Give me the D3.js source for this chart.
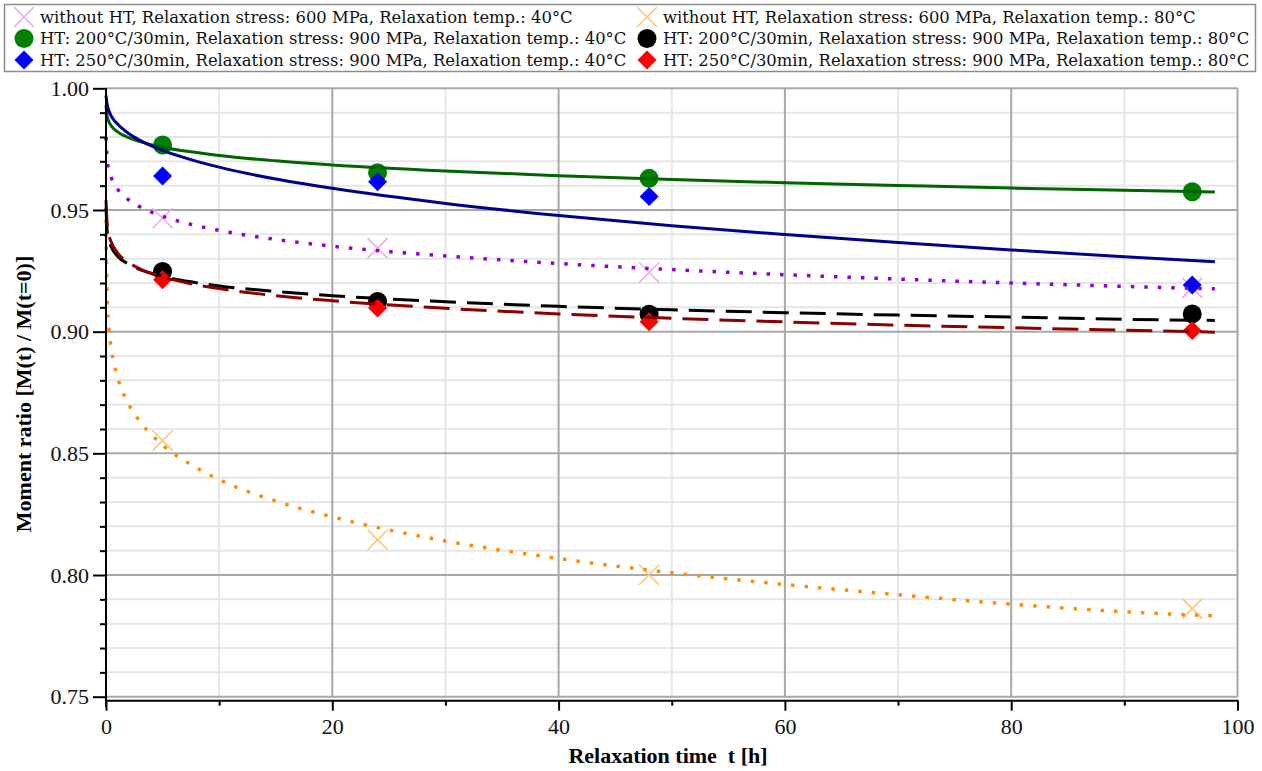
<!DOCTYPE html>
<html>
<head>
<meta charset="utf-8">
<script src="https://cdn.jsdelivr.net/npm/d3@7"></script>
<style>
  html, body { margin: 0; padding: 0; background: #fff; }
  svg { display: block; }
</style>
</head>
<body>
<svg id="chart" width="1262" height="771"></svg>
<script>
// Measured relaxation: moment ratio at each holding time
const measureTimes = [5, 24, 48, 96];
const noHT40  = [0.9466, 0.9343, 0.9243, 0.9180];
const noHT80  = [0.8553, 0.8145, 0.8001, 0.7862];
const ht200_40 = [0.9767, 0.9653, 0.9630, 0.9575];
const ht200_80 = [0.9247, 0.9124, 0.9072, 0.9073];
const ht250_40 = [0.9640, 0.9616, 0.9555, 0.9192];
const ht250_80 = [0.9213, 0.9097, 0.9041, 0.9005];

// Fitted relaxation curves, sampled along the time axis
const fitTimes = [0, 0.1, 0.25, 0.5, 1, 2, 3, 5, 7.5, 10, 15, 20, 30, 40, 50, 60, 70, 80, 90, 98];
const fitNoHT40  = [0.980, 0.9709, 0.9665, 0.9628, 0.9587, 0.9542, 0.9513, 0.9474, 0.9441, 0.9416, 0.9379, 0.9351, 0.9311, 0.9280, 0.9255, 0.9234, 0.9216, 0.9200, 0.9186, 0.9176];
const fitNoHT80  = [0.946, 0.9129, 0.9016, 0.8921, 0.8817, 0.8702, 0.8631, 0.8534, 0.8454, 0.8392, 0.8304, 0.8239, 0.8140, 0.8068, 0.8009, 0.7961, 0.7919, 0.7880, 0.7849, 0.7832];
const fitHT200_40 = [0.993, 0.9885, 0.9863, 0.9844, 0.9822, 0.9797, 0.9781, 0.9758, 0.9739, 0.9724, 0.9702, 0.9685, 0.9660, 0.9641, 0.9625, 0.9612, 0.9601, 0.9590, 0.9581, 0.9574];
const fitHT200_80 = [0.951, 0.9415, 0.9376, 0.9344, 0.9311, 0.9277, 0.9255, 0.9228, 0.9205, 0.9188, 0.9165, 0.9148, 0.9123, 0.9104, 0.9090, 0.9078, 0.9068, 0.9060, 0.9051, 0.9046];
const fitHT250_40 = [0.997, 0.9934, 0.9909, 0.9883, 0.9854, 0.9814, 0.9786, 0.9745, 0.9707, 0.9676, 0.9627, 0.9589, 0.9527, 0.9477, 0.9435, 0.9399, 0.9366, 0.9336, 0.9308, 0.9287];
const fitHT250_80 = [0.954, 0.9446, 0.9400, 0.9364, 0.9325, 0.9284, 0.9258, 0.9225, 0.9197, 0.9177, 0.9148, 0.9127, 0.9096, 0.9073, 0.9055, 0.9040, 0.9027, 0.9016, 0.9006, 0.8998];

const legendLabels = [
  "without HT, Relaxation stress: 600 MPa, Relaxation temp.: 40°C",
  "HT: 200°C/30min, Relaxation stress: 900 MPa, Relaxation temp.: 40°C",
  "HT: 250°C/30min, Relaxation stress: 900 MPa, Relaxation temp.: 40°C",
  "without HT, Relaxation stress: 600 MPa, Relaxation temp.: 80°C",
  "HT: 200°C/30min, Relaxation stress: 900 MPa, Relaxation temp.: 80°C",
  "HT: 250°C/30min, Relaxation stress: 900 MPa, Relaxation temp.: 80°C"
];

const xMajorTicks = [0, 20, 40, 60, 80, 100];
const xMinorTicks = [10, 30, 50, 70, 90];
const yMajorTicks = [0.75, 0.80, 0.85, 0.90, 0.95, 1.00];

const series = [
  { label: legendLabels[0], pts: noHT40,   fit: fitNoHT40,   marker: "cross",   fill: "none",    mstroke: "#f2a6f2", line: "#9400d3", dash: "3.5,10", width: 3.5 },
  { label: legendLabels[1], pts: ht200_40, fit: fitHT200_40, marker: "circle",  fill: "#008000", mstroke: "none",    line: "#006400", dash: null,     width: 3 },
  { label: legendLabels[2], pts: ht250_40, fit: fitHT250_40, marker: "diamond", fill: "#0000ff", mstroke: "none",    line: "#00008b", dash: null,     width: 3 },
  { label: legendLabels[3], pts: noHT80,   fit: fitNoHT80,   marker: "cross",   fill: "none",    mstroke: "#ffc56e", line: "#ff8c00", dash: "3.5,10", width: 3.5 },
  { label: legendLabels[4], pts: ht200_80, fit: fitHT200_80, marker: "circle",  fill: "#000000", mstroke: "none",    line: "#000000", dash: "26,11",  width: 3 },
  { label: legendLabels[5], pts: ht250_80, fit: fitHT250_80, marker: "diamond", fill: "#ff0000", mstroke: "none",    line: "#8b0000", dash: "26,11",  width: 3 }
];

const svg = d3.select("#chart");
const x = d3.scaleLinear().domain([0, 100]).range([106, 1237.5]);
const y = d3.scaleLinear().domain([0.75, 1.0]).range([696.7, 88.3]);

// Grid
const grid = svg.append("g");
const yMinorGrid = d3.range(75, 101).map(v => v / 100).filter(v => !yMajorTicks.some(m => Math.abs(m - v) < 1e-9));
grid.selectAll(".hmin").data(yMinorGrid).join("line")
  .attr("x1", x(0)).attr("x2", x(100))
  .attr("y1", d => y(d)).attr("y2", d => y(d))
  .attr("stroke", "#e6e6e6").attr("stroke-width", 2);
grid.selectAll(".vmin").data(xMinorTicks).join("line")
  .attr("x1", d => x(d)).attr("x2", d => x(d))
  .attr("y1", y(1)).attr("y2", y(0.75))
  .attr("stroke", "#e6e6e6").attr("stroke-width", 2);
grid.selectAll(".hmaj").data(yMajorTicks).join("line")
  .attr("x1", x(0)).attr("x2", x(100))
  .attr("y1", d => y(d)).attr("y2", d => y(d))
  .attr("stroke", "#a8a8a8").attr("stroke-width", 2);
grid.selectAll(".vmaj").data(xMajorTicks.slice(1)).join("line")
  .attr("x1", d => x(d)).attr("x2", d => x(d))
  .attr("y1", y(1)).attr("y2", y(0.75))
  .attr("stroke", "#a8a8a8").attr("stroke-width", 2);

// Markers
function markerPath(type, cx, cy) {
  if (type === "diamond") {
    const r = 9.5;
    return `M${cx},${cy - r}L${cx + r},${cy}L${cx},${cy + r}L${cx - r},${cy}Z`;
  }
  const r = 10;
  return `M${cx - r},${cy - r}L${cx + r},${cy + r}M${cx - r},${cy + r}L${cx + r},${cy - r}`;
}
function drawMarker(g, s, cx, cy) {
  if (s.marker === "circle") {
    g.append("circle").attr("cx", cx).attr("cy", cy).attr("r", 9.5).attr("fill", s.fill);
  } else if (s.marker === "diamond") {
    g.append("path").attr("d", markerPath("diamond", cx, cy)).attr("fill", s.fill);
  } else {
    g.append("path").attr("d", markerPath("cross", cx, cy))
      .attr("fill", "none").attr("stroke", s.mstroke).attr("stroke-width", 1.6);
  }
}

const markG = svg.append("g");
series.forEach(s => {
  s.pts.forEach((v, i) => drawMarker(markG, s, x(measureTimes[i]), y(v)));
});

// Fit curves drawn over the measured points
const lineGen = d3.line().x(d => x(d[0])).y(d => y(d[1])).curve(d3.curveMonotoneX);
const lineG = svg.append("g");
series.forEach(s => {
  const p = lineG.append("path")
    .datum(fitTimes.map((t, i) => [t, s.fit[i]]))
    .attr("d", lineGen)
    .attr("fill", "none")
    .attr("stroke", s.line)
    .attr("stroke-width", s.width)
    .attr("stroke-linecap", "butt");
  if (s.dash) p.attr("stroke-dasharray", s.dash);
});

// Axes
const axisFont = '"Liberation Serif", "Times New Roman", serif';
const yAxisMajor = svg.append("g").attr("transform", `translate(${x(0)},0)`)
  .call(d3.axisLeft(y).tickValues(yMajorTicks).tickFormat(d3.format(".2f")).tickSize(13).tickSizeOuter(0).tickPadding(4));
const yAxisMinor = svg.append("g").attr("transform", `translate(${x(0)},0)`)
  .call(d3.axisLeft(y).tickValues(yMinorGrid).tickFormat("").tickSize(6).tickSizeOuter(0));
const xAxisMajor = svg.append("g").attr("transform", "translate(0,700.7)")
  .call(d3.axisBottom(x).tickValues(xMajorTicks).tickFormat(d3.format("d")).tickSize(10).tickSizeOuter(0).tickPadding(8));
const xAxisMinor = svg.append("g").attr("transform", "translate(0,700.7)")
  .call(d3.axisBottom(x).tickValues(xMinorTicks).tickFormat("").tickSize(5).tickSizeOuter(0));
[yAxisMajor, yAxisMinor, xAxisMajor, xAxisMinor].forEach(g => {
  g.attr("font-family", axisFont).attr("font-size", 22);
  g.select(".domain").remove();
  g.selectAll(".tick line").attr("stroke", "#000").attr("stroke-width", 2);
  g.selectAll(".tick text").attr("fill", "#111");
});
svg.append("line").attr("x1", x(0)).attr("x2", x(0)).attr("y1", 88).attr("y2", 707)
  .attr("stroke", "#000").attr("stroke-width", 2);
svg.append("line").attr("x1", x(0)).attr("x2", x(100) + 1).attr("y1", 700.7).attr("y2", 700.7)
  .attr("stroke", "#000").attr("stroke-width", 2);

// Axis titles
svg.append("text")
  .attr("x", 668).attr("y", 763)
  .attr("text-anchor", "middle")
  .attr("font-family", axisFont).attr("font-weight", "bold").attr("font-size", 22)
  .style("white-space", "pre")
  .text("Relaxation time  t [h]");
svg.append("text")
  .attr("transform", "translate(31,394) rotate(-90)")
  .attr("text-anchor", "middle")
  .attr("font-family", axisFont).attr("font-weight", "bold").attr("font-size", 22)
  .text("Moment ratio [M(t) / M(t=0)]");

// Legend
const legend = svg.append("g");
legend.append("rect").attr("x", 4.5).attr("y", 4.5).attr("width", 1251).attr("height", 67)
  .attr("fill", "#fff").attr("stroke", "#8c8c8c").attr("stroke-width", 1.5);
const rowY = [17, 38.5, 60];
series.forEach((s, i) => {
  const col = Math.floor(i / 3), row = i % 3;
  const mx = col === 0 ? 24 : 647;
  const g = legend.append("g");
  drawMarker(g, s, mx, rowY[row]);
  g.append("text")
    .attr("x", mx + 16).attr("y", rowY[row])
    .attr("dy", "0.35em")
    .attr("font-family", '"DejaVu Serif", serif')
    .attr("font-size", 16.4)
    .attr("fill", "#111")
    .text(s.label);
});
</script>
</body>
</html>
